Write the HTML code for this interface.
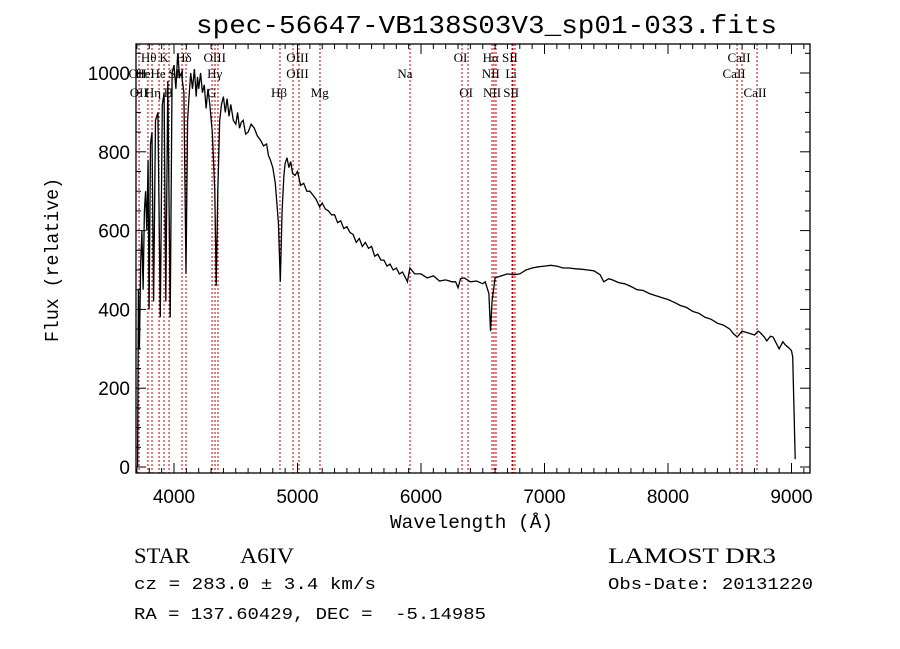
<!DOCTYPE html>
<html><head><meta charset="utf-8"><style>
body{margin:0;background:#fff;width:900px;height:649px;overflow:hidden}
svg{display:block}
</style></head><body>
<svg id="chart" width="900" height="649" xmlns="http://www.w3.org/2000/svg">
<rect width="900" height="649" fill="#fff"/>
<text x="196" y="33" font-family="Liberation Mono, monospace" font-size="26" textLength="581" lengthAdjust="spacingAndGlyphs">spec-56647-VB138S03V3_sp01-033.fits</text>
<g id="lines"></g>
<g id="labels" font-family="Liberation Serif, serif" font-size="13"></g>
<g id="series"></g>
<g id="axes"></g>
<text x="390" y="528" font-family="Liberation Mono, monospace" font-size="19" textLength="163" lengthAdjust="spacingAndGlyphs">Wavelength (Å)</text>
<text transform="translate(58,342) rotate(-90)" font-family="Liberation Mono, monospace" font-size="19" textLength="164" lengthAdjust="spacingAndGlyphs">Flux (relative)</text>
<text x="134" y="563" font-family="Liberation Serif, serif" font-size="22" textLength="56" lengthAdjust="spacingAndGlyphs">STAR</text>
<text x="240" y="563" font-family="Liberation Serif, serif" font-size="22" textLength="54" lengthAdjust="spacingAndGlyphs">A6IV</text>
<text x="608" y="563" font-family="Liberation Serif, serif" font-size="22" textLength="168" lengthAdjust="spacingAndGlyphs">LAMOST DR3</text>
<text x="134" y="589" font-family="Liberation Mono, monospace" font-size="17" textLength="242" lengthAdjust="spacingAndGlyphs">cz = 283.0 ± 3.4 km/s</text>
<text x="608" y="589" font-family="Liberation Mono, monospace" font-size="17" textLength="205" lengthAdjust="spacingAndGlyphs">Obs-Date: 20131220</text>
<text x="134" y="619" font-family="Liberation Mono, monospace" font-size="17" textLength="352" lengthAdjust="spacingAndGlyphs" style="white-space:pre" xml:space="preserve">RA = 137.60429, DEC =  -5.14985</text>
</svg>
<script>
const wavelengths=[3700,3705,3712,3720,3730,3740,3750,3760,3770,3780,3790,3798,3810,3822,3835,3850,3870,3889,3905,3920,3934,3950,3969,3985,4000,4015,4030,4045,4060,4080,4097,4110,4120,4135,4150,4165,4180,4190,4200,4215,4230,4245,4260,4275,4290,4310,4330,4342,4355,4370,4385,4400,4415,4430,4445,4460,4480,4500,4515,4530,4545,4560,4580,4600,4625,4650,4675,4700,4725,4750,4765,4780,4800,4820,4845,4861,4875,4890,4900,4915,4930,4945,4960,4980,5000,5025,5050,5075,5100,5125,5150,5180,5200,5225,5250,5275,5300,5325,5350,5375,5400,5425,5450,5475,5500,5525,5550,5575,5600,5625,5650,5675,5700,5725,5750,5775,5800,5825,5850,5875,5890,5910,5950,6000,6050,6100,6150,6200,6250,6280,6300,6320,6350,6400,6450,6500,6520,6550,6563,6575,6600,6650,6700,6750,6800,6850,6900,6950,7000,7050,7100,7150,7200,7250,7300,7350,7400,7450,7480,7520,7550,7600,7650,7700,7750,7800,7850,7900,7950,8000,8050,8100,8150,8200,8250,8300,8350,8400,8450,8500,8530,8560,8600,8650,8700,8730,8750,8780,8800,8830,8850,8880,8900,8930,8950,8980,9000,9010,9030];
const fluxes=[0,0,450,300,520,600,450,650,700,600,780,400,820,850,420,880,900,380,920,950,420,980,380,1000,1020,960,1050,990,1000,950,490,880,930,1000,960,1010,940,990,960,1000,950,970,910,960,920,850,700,460,700,880,920,940,900,935,890,920,880,870,900,860,875,880,845,850,870,860,840,830,815,820,790,780,760,720,620,470,650,740,770,785,760,775,745,740,750,715,720,700,700,690,680,660,670,655,650,640,640,620,625,605,610,595,590,570,580,560,570,555,560,535,540,525,525,510,515,500,505,490,495,480,470,505,490,490,480,485,472,475,470,470,455,478,480,470,472,465,470,440,345,420,480,485,490,488,490,500,505,508,510,512,510,505,505,503,502,500,498,488,470,478,475,468,465,458,450,448,440,435,430,425,418,410,405,395,390,380,375,365,360,350,338,330,345,340,335,345,340,330,320,332,330,312,300,318,310,302,295,280,20];
const lineWaves=[3717,3789,3822,3879,3919,3960,4065,4097,4308,4332,4356,4858,4964,5012,5182,5911,6332,6381,6575,6591,6607,6737,6745,6761,8559,8599,8721];
const labelTexts=["Hθ","K","Hδ","OIII","OIII","OI","Hα","SII","CaII","OII","HeHe","SII","Hγ","OIII","Na","NII","Li","CaII","OII","Hη","H","G","Hβ","Mg","OI","NII","SII","CaII"];
const labelWaves=[3795,3920,4080,4330,5000,6320,6565,6720,8575,3705,3810,4020,4330,5000,5870,6565,6730,8535,3715,3830,3955,4305,4850,5180,6365,6575,6730,8705];
const labelRows=[0,0,0,0,0,0,0,0,0,1,1,1,1,1,1,1,1,1,2,2,2,2,2,2,2,2,2,2];
const xTicks=[4000,5000,6000,7000,8000,9000];
const yTicks=[0,200,400,600,800,1000];
const NS="http://www.w3.org/2000/svg";
const L=136,R=810,T=44,B=473;
const xs=w=>174+(w-4000)*0.1235;
const ys=f=>467-f*0.394;
function mk(tag,attrs,parent){const e=document.createElementNS(NS,tag);for(const k in attrs)e.setAttribute(k,attrs[k]);parent.appendChild(e);return e;}
const gl=document.getElementById('lines');
lineWaves.forEach(w=>{const e=mk('line',{x1:xs(w),x2:xs(w),y1:T,y2:B,stroke:'#c00000','stroke-width':1,'stroke-dasharray':'2,2'},gl);

});
const glab=document.getElementById('labels');
const rowY=[62,78,97];
labelTexts.forEach((t,i)=>{const e=mk('text',{x:xs(labelWaves[i]),y:rowY[labelRows[i]],'text-anchor':'middle'},glab);e.textContent=t;

});
const gs=document.getElementById('series');
const pts=wavelengths.map((w,i)=>xs(w).toFixed(1)+','+Math.min(B,ys(fluxes[i])).toFixed(1)).join(' ');
const pl=mk('polyline',{points:pts,fill:'none',stroke:'#000','stroke-width':1.3},gs);


const ga=document.getElementById('axes');
const fr=mk('rect',{x:L,y:T,width:R-L,height:B-T,fill:'none',stroke:'#000','stroke-width':1.3},ga);


for(let w=3700;w<=9100;w+=100){const x=xs(w);if(x<L||x>R)continue;const len=(w%1000===0)?10:5;
mk('line',{x1:x,x2:x,y1:B,y2:B-len,stroke:'#000'},ga);mk('line',{x1:x,x2:x,y1:T,y2:T+len,stroke:'#000'},ga);}
for(let f=0;f<=1050;f+=50){const y=ys(f);if(y<T)continue;const len=(f%200===0)?10:5;
mk('line',{x1:L,x2:L+len,y1:y,y2:y,stroke:'#000'},ga);mk('line',{x1:R,x2:R-len,y1:y,y2:y,stroke:'#000'},ga);}
xTicks.forEach(v=>{const e=mk('text',{x:xs(v),y:503,'text-anchor':'middle','font-family':'Liberation Sans, sans-serif','font-size':19},ga);e.textContent=v;

});
yTicks.forEach(v=>{const e=mk('text',{x:130,y:ys(v)+7,'text-anchor':'end','font-family':'Liberation Sans, sans-serif','font-size':19},ga);e.textContent=v;

});
</script>
</body></html>
